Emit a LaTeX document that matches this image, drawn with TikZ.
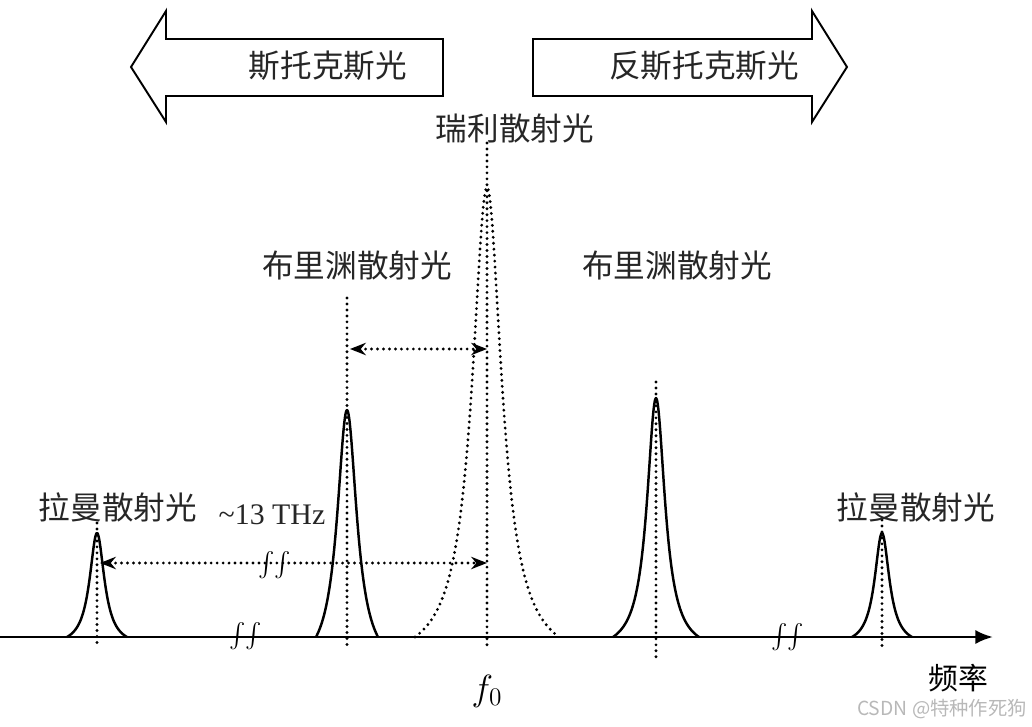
\documentclass[tikz,border=0pt]{standalone}
\usepackage{fontspec}
\usepackage{graphicx}
\newfontfamily\cjk{Noto Sans CJK SC}
\newfontfamily\tnr{Liberation Serif}
\usetikzlibrary{arrows.meta,positioning,calc}

% one spectral line: center, height, width, half base
\newcommand{\specline}[5][]{%
  \draw[#1] plot[domain=-#5:#5, samples=101, smooth]
    ({#2+\x}, {637-#3*(1/(1+(\x/#4)^2)-1/(1+(#5/#4)^2))/(1-1/(1+(#5/#4)^2))});}
\newcommand{\brkmark}{\smash{\scalebox{1.4}{$\int\!\int$}}}

\begin{document}
\begin{tikzpicture}[
    x=0.02cm, y=-0.02cm,
    >=Stealth,
    lbl/.style={font=\cjk\fontsize{18}{20}\selectfont, text=black!85, inner sep=0pt},
    peak/.style={line width=1.4pt, line join=round},
    guide/.style={line width=1.8pt, dash pattern=on 0pt off 3.4pt, line cap=round},
    gap/.style={guide, {Stealth[length=9pt,width=7pt]}-{Stealth[length=9pt,width=7pt]}},
    band/.style={draw, line width=1.1pt, line join=miter},
    brk/.style={inner sep=0pt},
  ]
  \useasboundingbox (0,0) rectangle (1032,727);

  % Stokes / anti-Stokes bands
  \draw[band] (131,67) -- (166,11) -- (166,39) -- (443,39) -- (443,96)
    -- (166,96) -- (166,122) -- cycle;
  \node[lbl] (stokes) at (328,66) {斯托克斯光};
  \draw[band] (847,67) -- (812,11) -- (812,39) -- (533,39) -- (533,96)
    -- (812,96) -- (812,122) -- cycle;
  \node[lbl] (astokes) at (704,66) {反斯托克斯光};

  % spectral lines
  \specline[peak]{97}{104}{9}{30}
  \specline[peak]{347}{227}{12}{31}
  \specline[guide]{487}{450}{18}{72}
  \specline[peak]{656}{239}{11}{43}
  \specline[peak]{882}{104}{9}{30}

  % frequency axis
  \coordinate (o) at (0,637);
  \coordinate (fend) at (993,637);
  \draw[line width=1.5pt, -{Latex[length=10pt,width=8pt]}] (o) -- (fend);

  % center guides
  \foreach \n/\cx/\top/\bot in {ramL/97/523/643, briL/347/298/645,
      ray/487/143/647, briR/656/382/657, ramR/882/520/647}{
    \coordinate (\n-t) at (\cx,\top);
    \coordinate (\n-b) at (\cx,\bot);
    \draw[guide] (\n-t) -- (\n-b);
  }

  % shifts
  \coordinate (shiftL) at (350,349);
  \coordinate (shiftR) at (487,349);
  \draw[gap] (shiftL) -- (shiftR);
  \coordinate (ramanL) at (100,563);
  \coordinate (ramanR) at (487,563);
  \draw[gap] (ramanL) -- (ramanR);

  % breaks
  \node[brk] (brk1) at (275,571) {\brkmark};
  \node[brk] (brk2) at (246,642) {\brkmark};
  \node[brk] (brk3) at (788,643) {\brkmark};

  % labels
  \node[lbl] (rayl) at (515,128) {瑞利散射光};
  \node[lbl] (bril) at (357,265) {布里渊散射光};
  \node[lbl] (brir) at (677,265) {布里渊散射光};
  \node[lbl] (raml) at (118,507) {拉曼散射光};
  \node[lbl] (ramr) at (916,507) {拉曼散射光};
  \node[font=\tnr\fontsize{17}{18}\selectfont, inner sep=0pt, text=black!85]
    (thz) at (272,515) {\textasciitilde13 THz};
  \node[font=\fontsize{20}{20}\selectfont, inner sep=0pt] (f0) at (487,691) {$f_0$};
  \node[font=\cjk\fontsize{17}{18}\selectfont, inner sep=0pt] (freq) at (958,678) {频率};
  \node[font=\cjk\fontsize{11}{12}\selectfont, inner sep=0pt, text=black!28]
    (mark) at (942,709) {CSDN @特种作死狗};
\end{tikzpicture}
\end{document}
